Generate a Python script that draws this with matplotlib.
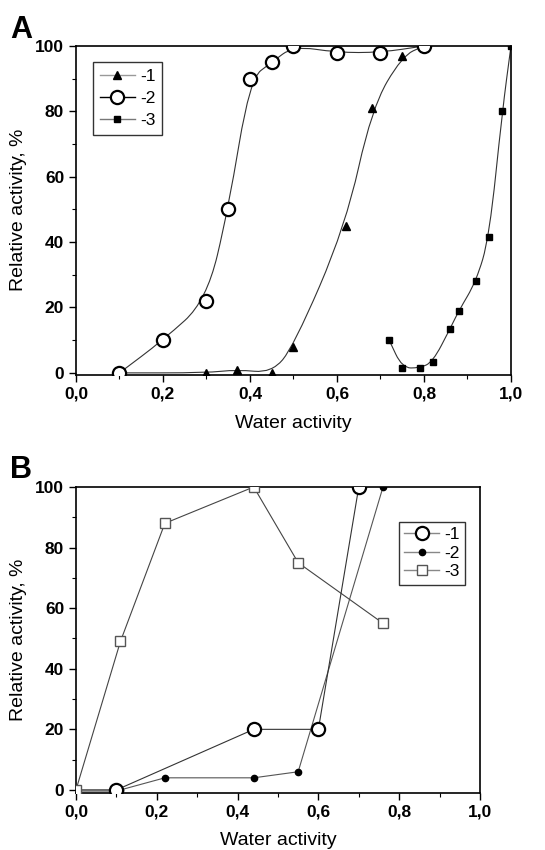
import numpy as np
import matplotlib
matplotlib.use('Agg')
import matplotlib.pyplot as plt
from matplotlib.path import Path
from matplotlib.patches import PathPatch

plt.rcParams['font.family'] = ['Liberation Sans', 'DejaVu Sans']

# ---- panel A data ----
a1_x = [0.1, 0.3, 0.37, 0.45, 0.5, 0.62, 0.68, 0.75, 0.8]
a1_y = [0, 0, 1, 0, 8, 45, 81, 97, 100]
a2_x = [0.1, 0.2, 0.3, 0.35, 0.4, 0.45, 0.5, 0.6, 0.7, 0.8]
a2_y = [0, 10, 22, 50, 90, 95, 100, 98, 98, 100]
a3_x = [0.72, 0.75, 0.79, 0.82, 0.86, 0.88, 0.92, 0.95, 0.98, 1.0]
a3_y = [10, 1.5, 1.5, 3.3, 13.5, 19, 28, 41.5, 80, 100]

# ---- panel B data ----
b1_x = [0.1, 0.44, 0.6, 0.7]
b1_y = [0, 20, 20, 100]
b2_x = [0.0, 0.11, 0.22, 0.44, 0.55, 0.76]
b2_y = [0, 0, 4, 4, 6, 100]
b3_x = [0.0, 0.11, 0.22, 0.44, 0.55, 0.76]
b3_y = [0, 49, 88, 100, 75, 55]

x_ticks = [0.0, 0.2, 0.4, 0.6, 0.8, 1.0]
x_ticklabels = ['0,0', '0,2', '0,4', '0,6', '0,8', '1,0']
y_ticks = [0, 20, 40, 60, 80, 100]


def smooth_line(ax, xs, ys, color='#333333', lw=0.8):
    # quadratic B-spline through the data, drawn as a bezier path
    pts = np.column_stack([xs, ys]).astype(float)
    verts = [pts[0]]
    codes = [Path.MOVETO]
    mids = (pts[:-1] + pts[1:]) / 2
    verts.append(mids[0]); codes.append(Path.LINETO)
    for i in range(1, len(pts) - 1):
        verts += [pts[i], mids[i]]
        codes += [Path.CURVE3, Path.CURVE3]
    verts.append(pts[-1]); codes.append(Path.LINETO)
    ax.add_patch(PathPatch(Path(verts, codes), fill=False, edgecolor=color, lw=lw, zorder=2))


def style_axes(ax, ymin):
    ax.set_xlim(0, 1.0)
    ax.set_ylim(ymin, 100)
    ax.set_xticks(x_ticks)
    ax.set_xticklabels(x_ticklabels)
    ax.set_xticks([0.1, 0.3, 0.5, 0.7, 0.9], minor=True)
    ax.set_yticks(y_ticks)
    ax.set_yticks([10, 30, 50, 70, 90], minor=True)
    ax.tick_params(which='major', direction='out', length=5, width=1.0, labelsize=12.5)
    ax.tick_params(which='minor', direction='out', length=3, width=0.8)
    for lab in ax.get_xticklabels() + ax.get_yticklabels():
        lab.set_fontweight('bold')
    for s in ax.spines.values():
        s.set_linewidth(1.2)
    ax.set_xlabel('Water activity', fontsize=14)
    ax.set_ylabel('Relative activity, %', fontsize=14)


fig = plt.figure(figsize=(5.45, 8.5), dpi=100)

# ---------------- panel A ----------------
axA = fig.add_axes([0.1394, 0.5594, 0.7982, 0.3865])
smooth_line(axA, a1_x, a1_y)
smooth_line(axA, a2_x, a2_y)
smooth_line(axA, a3_x, a3_y)
axA.plot(a1_x, a1_y, linestyle='none', marker='^', ms=6, color='black', zorder=3)
axA.plot(a2_x, a2_y, linestyle='none', marker='o', ms=9.5, mfc='white', mec='black', mew=1.6, zorder=4)
axA.plot(a3_x, a3_y, linestyle='none', marker='s', ms=5, color='black', zorder=3)
style_axes(axA, -0.5)
axA.xaxis.labelpad = 10
axA.yaxis.labelpad = 6

hA = [
    axA.plot([], [], color='#999999', lw=1, marker='^', ms=6, mfc='black', mec='black')[0],
    axA.plot([], [], color='black', lw=1, marker='o', ms=9.5, mfc='white', mec='black', mew=1.6)[0],
    axA.plot([], [], color='#777777', lw=1, marker='s', ms=5, mfc='black', mec='black')[0],
]
legA = axA.legend(hA, ['-1', '-2', '-3'], loc='upper left', bbox_to_anchor=(0.039, 0.951),
                  borderaxespad=0, fontsize=12.5, frameon=True, fancybox=False, handlelength=2.0,
                  handletextpad=0.3, borderpad=0.4, labelspacing=0.38)
legA.get_frame().set_edgecolor('black')
legA.get_frame().set_linewidth(1.0)

fig.text(0.018, 0.955, 'A', fontsize=22, fontweight='bold')

# ---------------- panel B ----------------
axB = fig.add_axes([0.1394, 0.0671, 0.7413, 0.36])
axB.plot(b1_x, b1_y, color='#333333', lw=0.8, marker='o', ms=9.5, mfc='white', mec='black', mew=1.6, zorder=4)
axB.plot(b2_x, b2_y, color='#555555', lw=0.8, marker='o', ms=4.5, mfc='black', mec='black', zorder=3)
axB.plot(b3_x, b3_y, color='#444444', lw=0.8, marker='s', ms=7, mfc='white', mec='#555555', mew=1.0, zorder=3)
axB.plot([0.0, 0.1], [0, 0], color='#888888', lw=2, zorder=2)
style_axes(axB, -1)
axB.xaxis.labelpad = 9
axB.yaxis.labelpad = 6

hB = [
    axB.plot([], [], color='#888888', lw=1, marker='o', ms=9.5, mfc='white', mec='black', mew=1.6)[0],
    axB.plot([], [], color='#888888', lw=1, marker='o', ms=4.5, mfc='black', mec='black')[0],
    axB.plot([], [], color='#888888', lw=1, marker='s', ms=7, mfc='white', mec='#555555')[0],
]
legB = axB.legend(hB, ['-1', '-2', '-3'], loc='upper right', bbox_to_anchor=(0.963, 0.886),
                  borderaxespad=0, fontsize=12.5, frameon=True, fancybox=False, handlelength=2.0,
                  handletextpad=0.3, borderpad=0.3, labelspacing=0.2)
legB.get_frame().set_edgecolor('black')
legB.get_frame().set_linewidth(1.0)

fig.text(0.018, 0.438, 'B', fontsize=22, fontweight='bold')

fig.savefig('out.png', dpi=100)
